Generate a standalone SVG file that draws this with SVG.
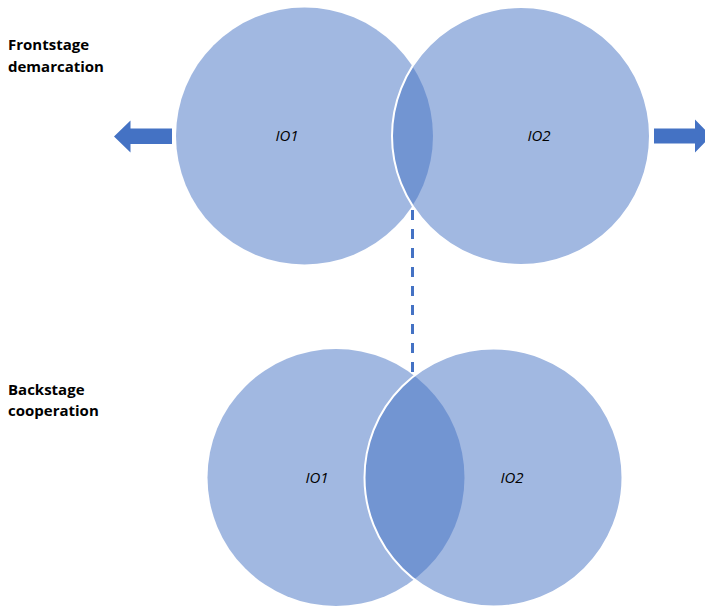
<svg xmlns="http://www.w3.org/2000/svg" width="705" height="607" viewBox="0 0 705 607">
<style>
.c{fill:#4472C4;fill-opacity:0.5;stroke:none}
.cw{fill:#4472C4;fill-opacity:0.5;stroke:#fff;stroke-width:2}
.lbl{font-family:"Open Sans","Noto Sans",sans-serif;font-weight:bold;font-size:15px;fill:#000}
.io{font-family:"Open Sans","Noto Sans",sans-serif;font-style:italic;font-size:15px;fill:#000;text-anchor:middle}
.arr{fill:#4472C4}
</style>
<rect width="705" height="607" fill="#fff"/>
<g id="label-frontstage"><text class="lbl" x="8" y="50">Frontstage</text><text class="lbl" x="8" y="72">demarcation</text></g>
<g id="label-backstage"><text class="lbl" x="8" y="395">Backstage</text><text class="lbl" x="8" y="416">cooperation</text></g>
<g id="top-io1"><circle class="c" cx="304.5" cy="136" r="128.5"/></g>
<g id="top-io2"><circle class="cw" cx="521" cy="136" r="129"/></g>
<g id="top-io1-label"><text class="io" x="287" y="141">IO1</text></g>
<g id="top-io2-label"><text class="io" x="539" y="141">IO2</text></g>
<g id="bottom-io1"><circle class="c" cx="336" cy="477.5" r="128.5"/><text class="io" x="317" y="483">IO1</text></g>
<g id="bottom-io2"><circle class="cw" cx="493.5" cy="477.5" r="129"/><text class="io" x="512" y="483">IO2</text></g>
<g id="connectors">
<line x1="412.5" y1="210" x2="412.5" y2="375" stroke="#4472C4" stroke-width="3" stroke-dasharray="10 9"/>
<polygon class="arr" points="114,136.5 130.5,120.5 130.5,128.5 172,128.5 172,144 130.5,144 130.5,152.5"/>
<polygon class="arr" points="654,128.5 695,128.5 695,119.5 711,136 695,152.5 695,143.5 654,143.5"/>
</g>
</svg>
